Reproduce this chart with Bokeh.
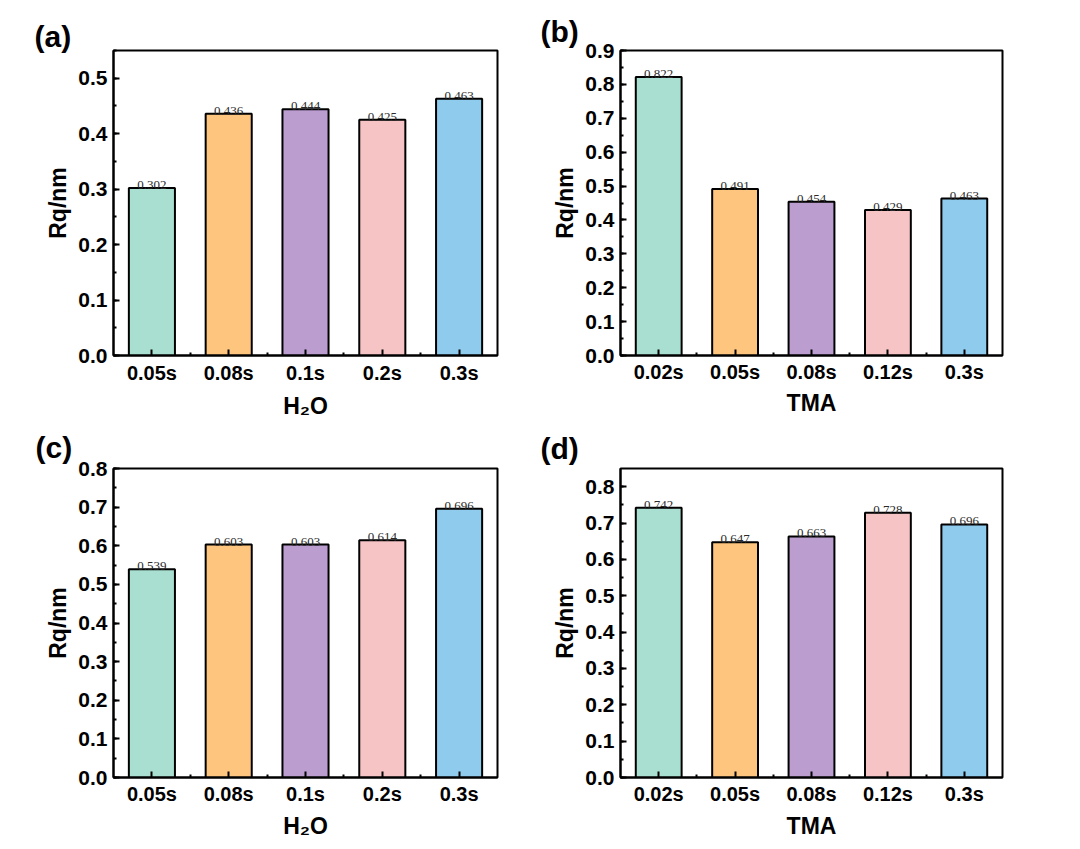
from bokeh.plotting import figure
from bokeh.models import Range1d, FixedTicker, SingleIntervalTicker, PrintfTickFormatter, ColumnDataSource
from bokeh.layouts import column, row
from bokeh.embed import file_html
from bokeh.resources import INLINE
from bokeh.core.properties import value

cats_h2o = ["0.05s", "0.08s", "0.1s", "0.2s", "0.3s"]
cats_tma = ["0.02s", "0.05s", "0.08s", "0.12s", "0.3s"]
rq_a = [0.302, 0.436, 0.444, 0.425, 0.463]
rq_b = [0.822, 0.491, 0.454, 0.429, 0.463]
rq_c = [0.539, 0.603, 0.603, 0.614, 0.696]
rq_d = [0.742, 0.647, 0.663, 0.728, 0.696]
bar_colors = ["#a9dfd1", "#fdc57e", "#bb9dd0", "#f7c4c6", "#8fcbec"]

FONT = "Liberation Sans"


def make(tag, cats, vals, xlabel, ymax, w, h, bl, br, bt, bb, toff, tstand, xs1, xs2):
    xs = list(range(len(cats)))
    p = figure(width=w, height=h, output_backend="svg", toolbar_location=None,
               x_range=Range1d(-0.5, len(cats) - 0.5), y_range=Range1d(0, ymax),
               min_border_left=bl, min_border_right=br, min_border_top=bt,
               min_border_bottom=bb)
    src = ColumnDataSource(dict(x=xs, top=vals, color=bar_colors[:len(cats)],
                                lab=["%.3f" % v for v in vals]))
    p.vbar(x="x", top="top", width=0.6, bottom=0, source=src, fill_color="color",
           line_color="black", line_width=2)
    p.text(x="x", y="top", text="lab", source=src, text_align="center",
           text_baseline="bottom", y_offset=1, text_font=value("Liberation Serif"),
           text_font_size="13px", text_color="#2a2a2a")
    p.xgrid.visible = False
    p.ygrid.visible = False
    p.outline_line_color = "black"
    p.outline_line_width = 2
    p.outline_line_alpha = 1
    p.background_fill_color = "white"
    p.border_fill_color = "white"

    p.xaxis.ticker = FixedTicker(ticks=xs, minor_ticks=[x + 0.5 for x in xs[:-1]])
    p.xaxis.major_label_overrides = {x: c for x, c in zip(xs, cats)}
    p.yaxis.ticker = SingleIntervalTicker(interval=0.1, num_minor_ticks=2)
    p.yaxis.formatter = PrintfTickFormatter(format="%.1f")
    for ax in (p.xaxis[0], p.yaxis[0]):
        ax.axis_line_color = "black"
        ax.axis_line_width = 2
        ax.major_tick_line_color = "black"
        ax.major_tick_line_width = 2
        ax.minor_tick_line_color = "black"
        ax.minor_tick_line_width = 2
        ax.major_tick_in = 6
        ax.major_tick_out = 0
        ax.minor_tick_in = 3
        ax.minor_tick_out = 0
        ax.major_label_text_font = FONT
        ax.major_label_text_font_style = "bold"
        ax.major_label_text_color = "black"
        ax.axis_label_text_font = FONT
        ax.axis_label_text_font_style = "bold"
        ax.axis_label_text_color = "black"
    p.xaxis.major_label_text_font_size = "20px"
    p.yaxis.major_label_text_font_size = "21px"
    p.xaxis.axis_label_text_font_size = "23px"
    p.yaxis.axis_label_text_font_size = "23px"
    p.xaxis.major_label_standoff = xs1
    p.xaxis.axis_label_standoff = xs2
    p.yaxis.major_label_standoff = 6
    p.yaxis.axis_label_standoff = 4
    p.xaxis.axis_label = xlabel
    p.yaxis.axis_label = "Rq/nm"

    p.title.text = tag
    p.title.text_font = FONT
    p.title.text_font_style = "bold"
    p.title.text_font_size = "30px"
    p.title.text_color = "black"
    p.title.align = "left"
    p.title.offset = toff
    p.title.standoff = tstand
    return p


pa = make("(a)", cats_h2o, rq_a, "H\u2082O", 0.55, 540, 421, 113, 43, 46, 66, -79, -4, 6, 6)
pb = make("(b)", cats_tma, rq_b, "TMA", 0.9, 524, 421, 80, 62, 50, 63, -80, 5, 5, 4)
pc = make("(c)", cats_h2o, rq_c, "H\u2082O", 0.8, 540, 420, 113, 43, 47, 64, -78, 10, 5, 5)
pd = make("(d)", cats_tma, rq_d, "TMA", 0.85, 524, 420, 80, 62, 47, 64, -80, 7, 5, 5)

layout = column(row(pa, pb), row(pc, pd))
open("out.html", "w").write(file_html(layout, INLINE))
